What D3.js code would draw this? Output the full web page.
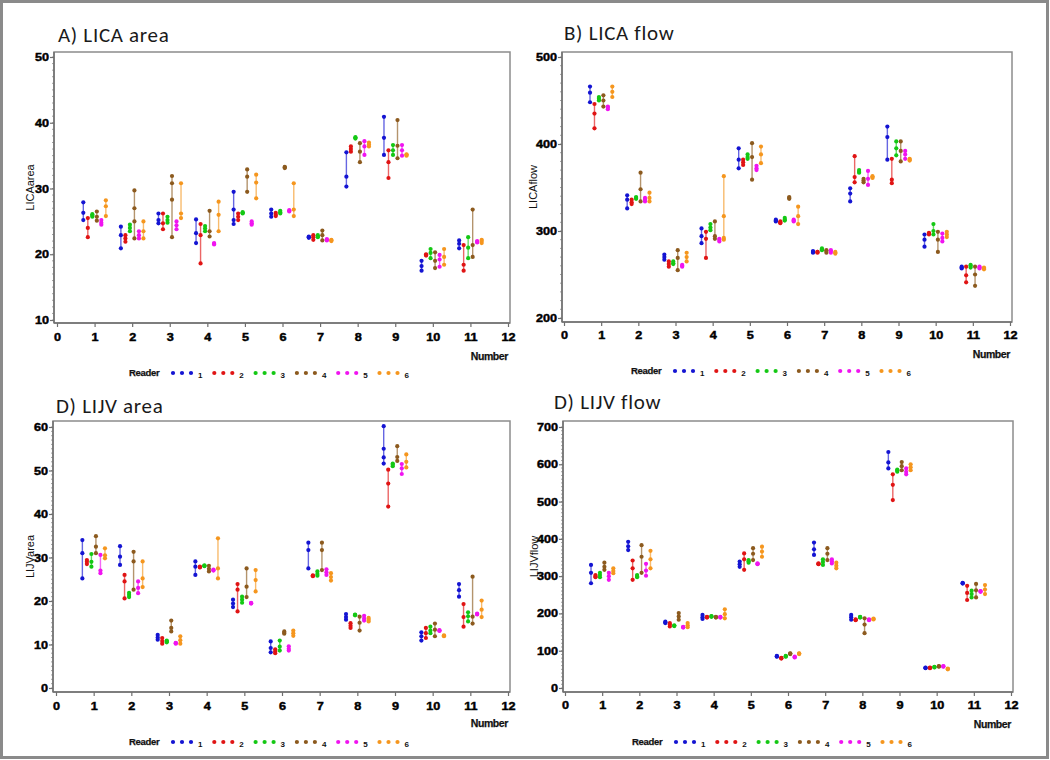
<!DOCTYPE html>
<html><head><meta charset="utf-8">
<script src="https://cdn.jsdelivr.net/npm/d3@7"></script>
<style>
html,body{margin:0;padding:0;background:#fff;}
svg{display:block;}
.tk text{font-family:'Liberation Sans',Arial,sans-serif;font-weight:700;font-size:11px;fill:#000;stroke:#000;stroke-width:0.45px;}
</style></head>
<body>
<svg id="chart" width="1050" height="760"></svg>
<script>
// ---------------- DATA ----------------
const subjects = [1,2,3,4,5,6,7,8,9,10,11];
const readers = [1,2,3,4,5,6];
const readerColors = ["#1414d2","#e01414","#14c814","#8c5a1e","#f014f0","#f5961e"];
const xTicks = [0,1,2,3,4,5,6,7,8,9,10,11,12];
const panelTitles = ["A) LICA area","B) LICA flow","D) LIJV area","D) LIJV flow"];
const yLabels = ["LICAarea","LICAflow","LIJVarea","LIJVflow"];
const yTicksLicaArea = [10,20,30,40,50];
const yTicksLicaFlow = [200,300,400,500];
const yTicksLijvArea = [0,10,20,30,40,50,60];
const yTicksLijvFlow = [0,100,200,300,400,500,600,700];

// measurements per subject (rows) and reader (columns)
const licaArea = [
 [[25.2,26.3,27.9],[22.6,24.0,25.5],[25.7,25.9,26.1],[25.1,25.7,26.5],[24.5,24.8,25.2],[25.8,27.3,28.2]],
 [[20.9,22.9,24.2],[21.9,22.4,22.9],[23.5,24.0,24.5],[22.4,25.0,27.0,29.7],[22.4,22.9,23.5],[22.4,23.5,25.0]],
 [[24.7,25.2,26.2],[23.8,24.7,26.2],[24.8,25.2,25.7],[22.6,28.3,30.8,31.9],[23.8,24.4,25.0],[25.5,26.2,30.8]],
 [[21.7,23.2,25.3],[18.6,22.9,24.6],[23.5,23.9,24.3],[22.7,23.5,26.6],[21.5,21.6,21.7],[23.5,26.0,28.0]],
 [[24.6,25.2,26.8,29.5],[25.2,25.7,26.2],[26.2,26.3,26.4],[29.5,31.8,32.9],[24.5,24.7,25.0],[28.5,30.9,32.1]],
 [[25.7,26.2,26.8],[25.8,26.0,26.3],[26.2,26.4,26.6],[33.1,33.2,33.3],[26.5,26.6,26.7],[25.8,26.8,30.8]],
 [[22.5,22.6,22.7],[22.2,22.6,22.9],[22.6,22.7,22.9],[22.1,22.9,23.6],[22.1,22.2,22.3],[22.0,22.1,22.2]],
 [[30.3,31.8,35.5],[35.6,36.0,36.4],[37.6,37.7,37.8],[34.0,35.6,36.9],[35.1,36.4,37.2],[36.4,36.7,37.0]],
 [[35.1,37.7,40.9],[31.6,34.0,35.8],[35.1,35.8,36.6],[34.6,36.5,40.4],[35.0,35.8,36.6],[35.0,35.1,35.2]],
 [[17.5,18.2,19.0],[19.8,19.9,20.0],[19.4,20.2,20.8],[17.9,19.0,20.3],[18.1,19.2,19.9],[18.4,19.6,20.8]],
 [[20.9,21.6,22.1],[17.5,18.4,21.4],[19.4,21.0,22.6],[19.6,21.4,26.8],[21.8,21.9,22.0],[21.7,22.0,22.2]]
];
const licaFlow = [
 [[448,459,466],[418,435,446],[450,452,454],[443,450,456],[440,442,443],[454,460,466]],
 [[326,336,341],[331,333,336],[337,338,339],[334,348,367],[334,336,338],[334,338,344]],
 [[267,270,273],[259,262,265],[262,263,265],[255,269,278],[259,260,261],[265,270,275]],
 [[286,294,303],[269,291,299],[301,304,308],[291,294,311],[288,290,291],[290,292,317,363]],
 [[372,382,395],[376,379,382],[383,385,388],[359,385,401],[370,372,375],[378,388,397]],
 [[311,312,313],[309,310,311],[312,313,315],[337,338,339],[311,312,313],[308,317,328]],
 [[275,276,277],[275,276,276],[278,279,280],[275,277,278],[275,277,278],[274,275,276]],
 [[334,343,349],[356,362,386],[367,368,370],[356,358,360],[353,360,369],[361,362,363]],
 [[382,408,420],[355,359,383],[387,395,403],[380,392,403],[383,388,392],[381,382,383]],
 [[282,290,296],[296,297,298],[296,300,308],[276,290,299],[288,292,297],[293,296,299]],
 [[257,258,259],[241,249,259],[258,260,261],[237,250,259],[257,258,259],[256,257,258]]
];
const lijvArea = [
 [[25.2,31.0,34.0],[28.5,29.0,29.4],[27.9,29.0,30.8],[31.0,32.5,34.9],[26.4,27.0,30.6],[29.8,30.5,32.1]],
 [[28.3,30.2,32.6],[20.6,24.5,26.0],[20.9,21.4,21.9],[22.6,29.1,31.3],[21.8,23.0,24.5],[23.2,25.2,29.1]],
 [[11.1,11.6,12.2],[10.2,10.8,11.5],[10.5,10.7,10.9],[13.0,13.8,15.5],[10.2,10.3,10.4],[10.2,11.0,11.9]],
 [[26.0,27.9,29.1],[27.7,27.8,27.9],[28.0,28.1,28.2],[26.8,27.4,28.1],[27.0,27.1,27.2],[25.2,27.5,34.4]],
 [[18.6,19.4,20.3],[17.6,22.6,23.9],[19.6,20.3,21.0],[20.9,23.3,27.5],[19.4,19.5,19.6],[22.2,24.8,27.1]],
 [[8.2,9.2,10.7],[8.0,8.4,8.9],[8.6,9.5,10.9],[12.5,12.7,13.0],[8.6,9.0,9.6],[12.0,12.6,13.2]],
 [[27.5,31.7,33.4],[25.7,25.8,25.9],[25.8,26.2,26.8],[27.1,31.7,33.4],[26.0,26.6,27.3],[24.7,25.5,26.4]],
 [[15.7,16.3,17.0],[13.8,14.3,14.9],[16.7,16.8,16.9],[13.2,15.0,16.4],[15.5,16.0,16.6],[15.3,15.7,16.1]],
 [[51.6,53.0,55.0,60.2],[41.7,47.0,50.2],[51.0,51.3,51.6],[52.2,53.1,55.6],[49.2,50.5,51.5],[50.7,52.0,53.7]],
 [[10.9,11.9,12.8],[11.5,12.6,13.8],[12.6,13.2,14.1],[11.9,13.4,14.8],[13.1,13.2,13.3],[11.9,12.0,12.1]],
 [[21.0,22.5,23.9],[14.1,16.3,19.3],[15.3,16.5,17.4],[14.8,16.4,25.6],[16.9,17.0,17.1],[16.3,18.0,20.1]]
];
const lijvFlow = [
 [[281,309,330],[297,300,303],[297,303,309],[317,325,336],[290,300,309],[308,314,321]],
 [[370,380,392],[290,321,342],[297,300,303],[309,352,383],[301,315,333],[321,345,368]],
 [[174,176,178],[165,170,174],[166,167,168],[183,192,201],[162,163,164],[163,168,174]],
 [[185,190,196],[189,190,191],[191,192,193],[189,190,191],[189,190,191],[187,198,211]],
 [[325,332,339],[317,345,361],[336,340,343],[343,360,375],[332,333,334],[352,366,379]],
 [[84,85,86],[79,80,81],[84,85,86],[91,92,93],[82,83,84],[91,92,93]],
 [[357,372,390],[332,333,334],[330,338,345],[343,360,375],[334,340,345],[321,328,336]],
 [[183,190,196],[182,183,184],[189,190,191],[147,170,187],[182,183,184],[184,185,186]],
 [[589,605,633],[504,545,573],[580,583,586],[584,595,606],[573,580,589],[584,592,600]],
 [[53,54,55],[53,54,55],[55,56,57],[57,58,59],[57,58,59],[50,51,52]],
 [[280,281,282],[236,255,274],[243,252,261],[243,262,279],[258,259,260],[252,264,276]]
];

// ---------------- DRAW ----------------
const svg = d3.select("#chart");
const FONT = "'Liberation Sans', Arial, sans-serif";

// outer border
svg.append("rect").attr("x",1.5).attr("y",1.5).attr("width",1046).attr("height",756)
  .attr("fill","none").attr("stroke","#8a8a8a").attr("stroke-width",3);

const panels = [
  {data: licaArea, ticks: yTicksLicaArea, frame:[54,510,52,323], xr:[57,508], yr:[320,57],
   title:[58,42], ylab:30, tickY:341, numY:360, legX:129, legY:373},
  {data: licaFlow, ticks: yTicksLicaFlow, frame:[562,1012,52,322], xr:[564,1010], yr:[318,57],
   title:[564,40], ylab:533, tickY:339, numY:358, legX:631, legY:371},
  {data: lijvArea, ticks: yTicksLijvArea, frame:[53,510,421,692], xr:[56,508], yr:[688,427],
   title:[56,413], ylab:30, tickY:710, numY:727, legX:129, legY:742},
  {data: lijvFlow, ticks: yTicksLijvFlow, frame:[563,1013,421,692], xr:[565,1011], yr:[688,427],
   title:[554,409], ylab:534, tickY:709, numY:728, legX:632, legY:742}
];

panels.forEach((p, i) => {
  const g = svg.append("g");
  const [fx0, fx1, fy0, fy1] = p.frame;
  const x = d3.scaleLinear().domain([xTicks[0], xTicks[xTicks.length-1]]).range(p.xr);
  const y = d3.scaleLinear().domain([p.ticks[0], p.ticks[p.ticks.length-1]]).range(p.yr);

  // title
  g.append("text").attr("x", p.title[0]).attr("y", p.title[1])
    .attr("font-family","Carlito, 'Open Sans', 'Noto Sans', sans-serif").attr("font-size",21)
    .attr("letter-spacing","0.7").attr("fill","#1a1a1a").text(panelTitles[i]);

  // frame
  g.append("rect").attr("x",fx0).attr("y",fy0).attr("width",fx1-fx0).attr("height",fy1-fy0)
    .attr("fill","none").attr("stroke","#8c8c8c").attr("stroke-width",1.5);

  // x axis
  const xAxis = d3.axisBottom(x).tickValues(xTicks).tickSize(4).tickSizeOuter(0).tickPadding(6);
  const xg = g.append("g").attr("class","tk").attr("transform",`translate(0,${fy1})`).call(xAxis);
  xg.attr("font-family",null).attr("font-size",null);
  xg.select(".domain").remove();
  xg.selectAll(".tick line").attr("stroke","#6e6e6e").attr("stroke-width",1.2);
  xg.selectAll(".tick text").attr("y", 0).attr("dy",0).attr("fill",null)
    .attr("transform",`translate(0,${p.tickY - fy1}) scale(1.15,1)`);

  // y axis minor ticks
  const step = p.ticks[1]-p.ticks[0];
  const minor = d3.range(p.ticks[0], p.ticks[p.ticks.length-1]+1e-9, step/10);
  g.append("g").selectAll("line").data(minor).join("line")
    .attr("x1",fx0-2).attr("x2",fx0).attr("y1",d=>y(d)).attr("y2",d=>y(d))
    .attr("stroke","#8a8a8a").attr("stroke-width",0.8);

  // y axis
  const yAxis = d3.axisLeft(y).tickValues(p.ticks).tickSize(4).tickSizeOuter(0).tickPadding(2);
  const yg = g.append("g").attr("class","tk").attr("transform",`translate(${fx0},0)`).call(yAxis);
  yg.attr("font-family",null).attr("font-size",null);
  yg.select(".domain").remove();
  yg.selectAll(".tick line").attr("stroke","#6e6e6e").attr("stroke-width",1.2);
  yg.selectAll(".tick text").attr("x",0).attr("fill",null)
    .attr("transform","translate(-5,0) scale(1.15,1)");

  // axis lines (left and bottom) darker
  g.append("line").attr("x1",fx0).attr("x2",fx0).attr("y1",fy0).attr("y2",fy1)
    .attr("stroke","#707070").attr("stroke-width",1.5);
  g.append("line").attr("x1",fx0).attr("x2",fx1).attr("y1",fy1).attr("y2",fy1)
    .attr("stroke","#707070").attr("stroke-width",1.5);

  // y label
  g.append("text").attr("transform",`translate(${p.ylab},${(fy0+fy1)/2}) rotate(-90)`)
    .attr("text-anchor","middle").attr("dy","0.35em")
    .attr("font-family",FONT).attr("font-size",11).attr("fill","#111").text(yLabels[i]);

  // x label
  g.append("text").attr("x", p.xr[1]).attr("y", p.numY).attr("text-anchor","end")
    .attr("font-family",FONT).attr("font-weight","bold").attr("font-size",10.5)
    .attr("letter-spacing","-0.4").attr("fill","#111").attr("stroke","#111").attr("stroke-width",0.25)
    .text("Number");

  // marks
  subjects.forEach((s, si) => {
    readers.forEach((r, ri) => {
      const vals = p.data[si][ri];
      const cx = x(s + (ri - 2.5) * 0.12);
      const col = readerColors[ri];
      g.append("line").attr("x1",cx).attr("x2",cx)
        .attr("y1",y(d3.min(vals))).attr("y2",y(d3.max(vals)))
        .attr("stroke",col).attr("stroke-opacity",0.65).attr("stroke-width",1.4);
      g.append("g").selectAll("circle").data(vals).join("circle")
        .attr("cx",cx).attr("cy",d=>y(d)).attr("r",2.1).attr("fill",col);
    });
  });

  // legend
  const lg = g.append("g");
  lg.append("text").attr("x",p.legX).attr("y",p.legY).attr("dy","0.35em")
    .attr("font-family",FONT).attr("font-weight","bold").attr("font-size",9.5)
    .attr("letter-spacing","-0.3").attr("fill","#111").attr("stroke","#111").attr("stroke-width",0.25)
    .text("Reader");
  readers.forEach((r, ri) => {
    const bx = p.legX + 44 + ri*41.3;
    [0,1,2].forEach(k => {
      lg.append("circle").attr("cx",bx + k*9).attr("cy",p.legY).attr("r",2.1).attr("fill",readerColors[ri]);
    });
    lg.append("text").attr("x",bx + 25).attr("y",p.legY+5).attr("font-family",FONT)
      .attr("font-weight","bold").attr("font-size",8).attr("fill","#111").text(r);
  });
});
</script>
</body></html>
